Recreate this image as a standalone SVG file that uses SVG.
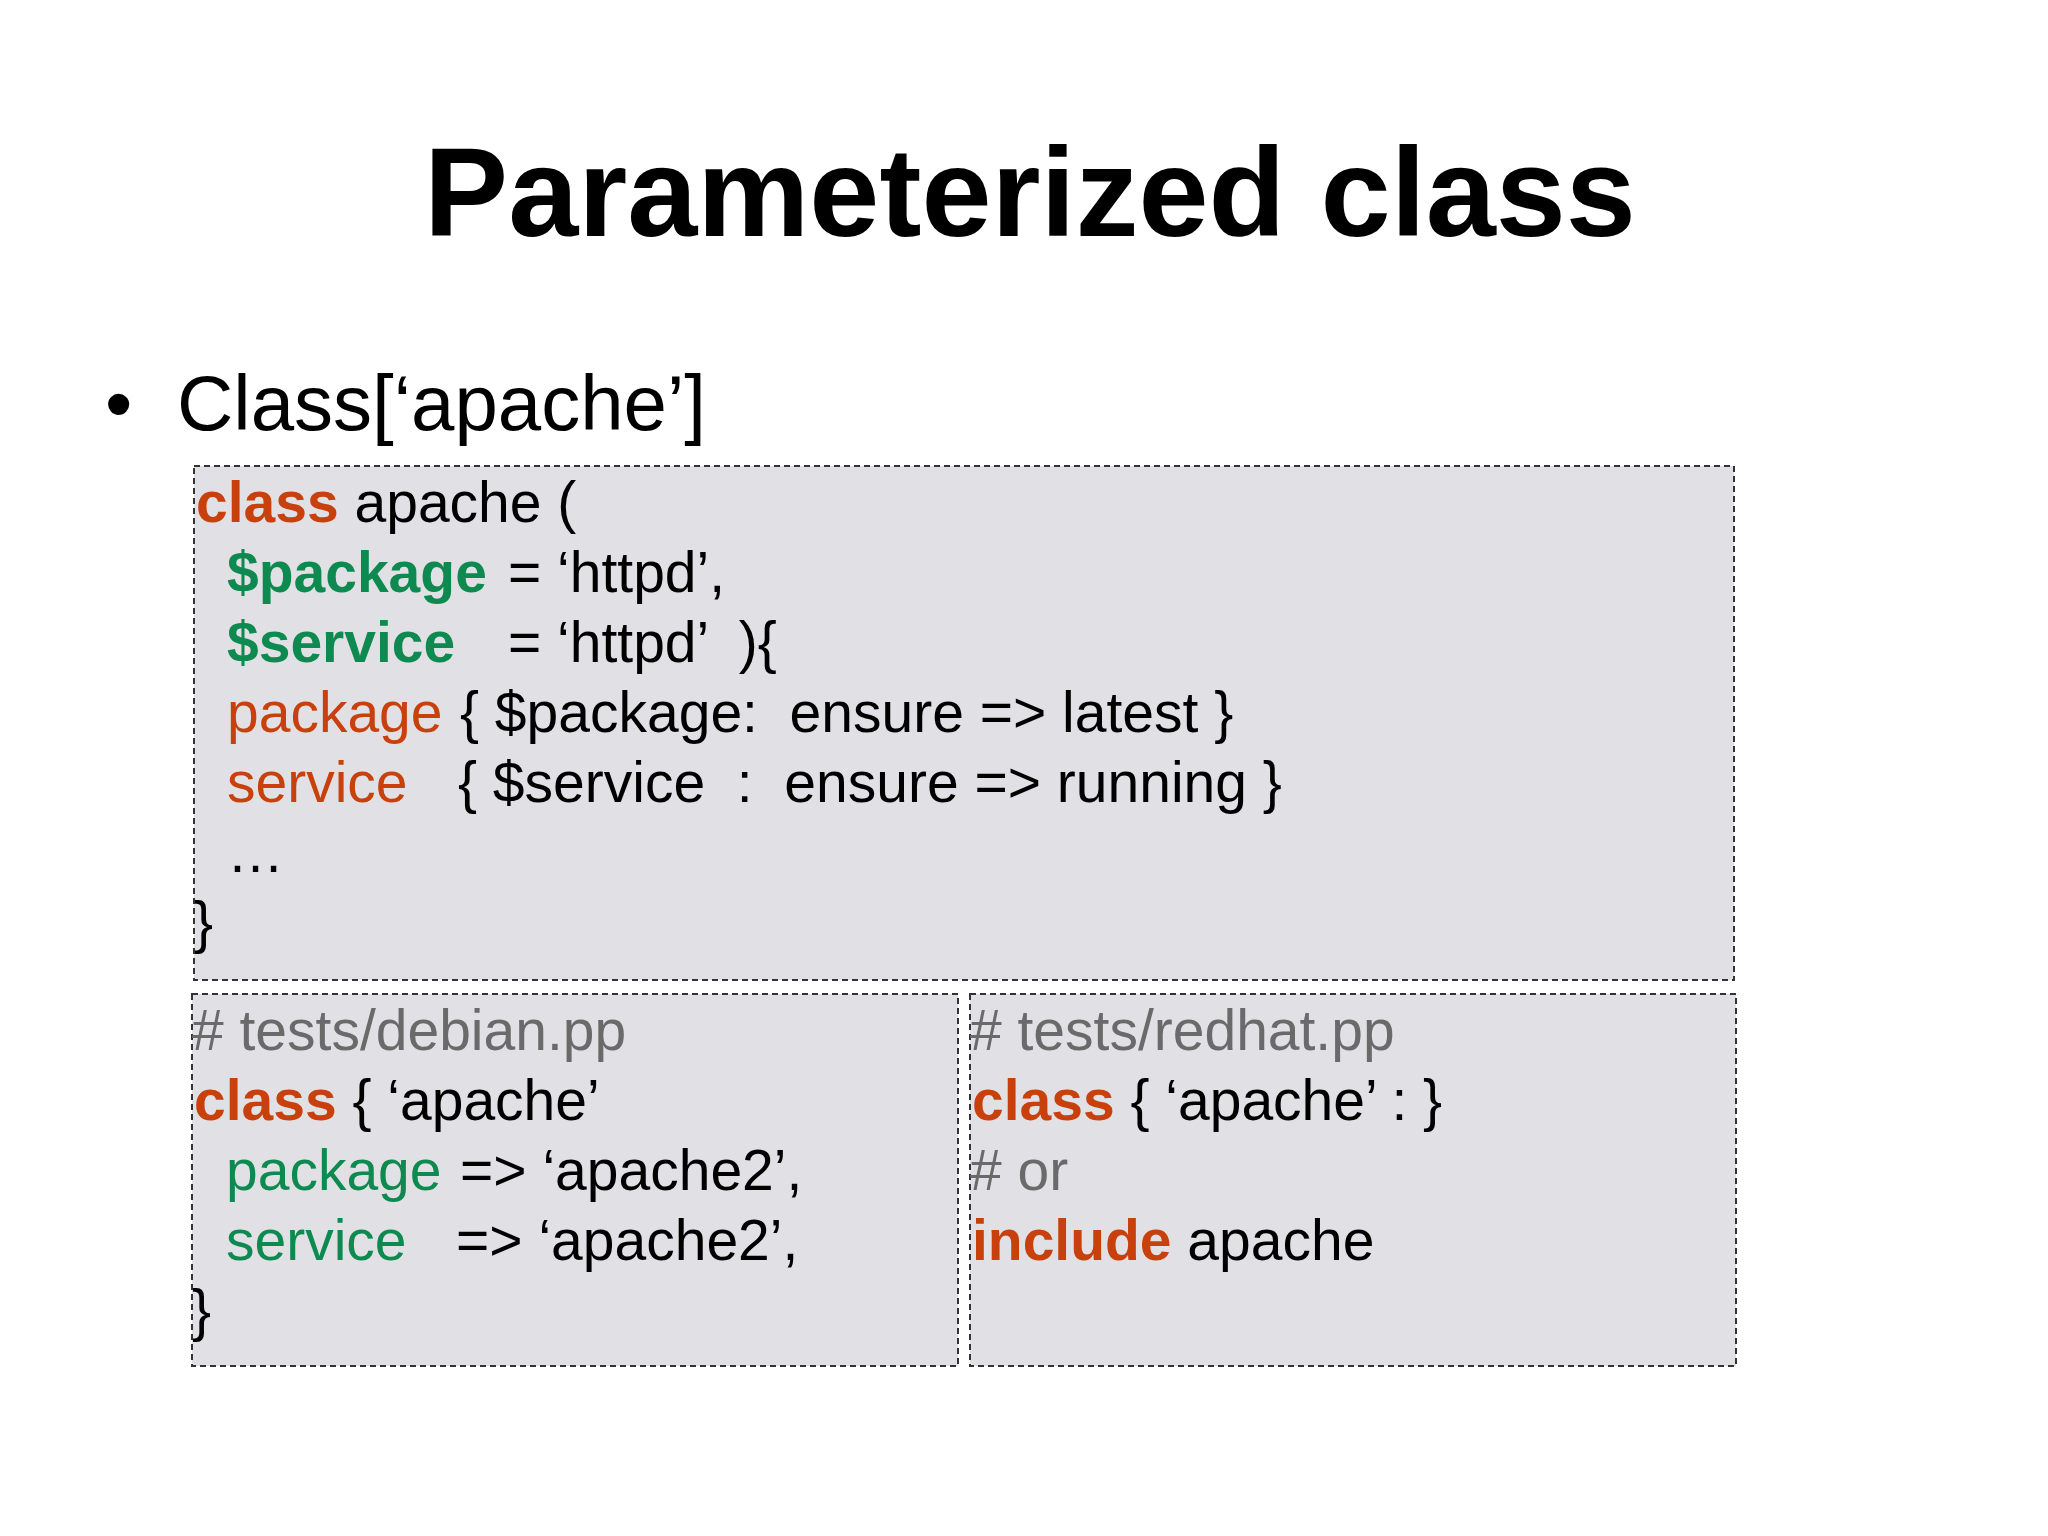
<svg xmlns="http://www.w3.org/2000/svg" width="2048" height="1536" viewBox="0 0 2048 1536">
<style>
text{font-family:"Liberation Sans",Arial,sans-serif;fill:#000}
.c{font-size:57px}
.k{fill:#c8400c;font-weight:bold}
.o{fill:#c8400c}
.g{fill:#0e8a50;font-weight:bold}
.gn{fill:#0e8a50}
.m{fill:#6a6a6a}
.box{fill:#e1e1e5;stroke:#333;stroke-width:2;stroke-dasharray:6 4}
</style>
<rect width="2048" height="1536" fill="#fff"/>
<text x="1030" y="236" font-size="126" font-weight="bold" text-anchor="middle">Parameterized class</text>
<text x="105" y="430" font-size="78">•</text>
<text x="177" y="430" font-size="78">Class[‘apache’]</text>
<g id="main">
<rect class="box" x="194" y="466" width="1540" height="514"/>
<text class="c" xml:space="preserve"><tspan x="196" y="522"><tspan class="k">class</tspan> apache (</tspan><tspan x="227" y="592" class="g">$package</tspan><tspan x="508" y="592">= ‘httpd’,</tspan><tspan x="227" y="662" class="g">$service</tspan><tspan x="508" y="662">= ‘httpd’  ){</tspan><tspan x="227" y="732" class="o">package</tspan><tspan x="460" y="732">{ $package:  ensure =&gt; latest }</tspan><tspan x="227" y="802" class="o">service</tspan><tspan x="458" y="802">{ $service  :  ensure =&gt; running }</tspan><tspan x="227" y="872">…</tspan><tspan x="194" y="942">}</tspan></text>
</g>
<g id="debian">
<rect class="box" x="192" y="994" width="766" height="372"/>
<text class="c" xml:space="preserve"><tspan x="192" y="1050" class="m"># tests/debian.pp</tspan><tspan x="194" y="1120"><tspan class="k">class</tspan> { ‘apache’</tspan><tspan x="226" y="1190" class="gn">package</tspan><tspan x="460" y="1190">=&gt; ‘apache2’,</tspan><tspan x="226" y="1260" class="gn">service</tspan><tspan x="456" y="1260">=&gt; ‘apache2’,</tspan><tspan x="192" y="1330">}</tspan></text>
</g>
<g id="redhat">
<rect class="box" x="970" y="994" width="766" height="372"/>
<text class="c" xml:space="preserve"><tspan x="970" y="1050" class="m"># tests/redhat.pp</tspan><tspan x="972" y="1120"><tspan class="k">class</tspan> { ‘apache’ : }</tspan><tspan x="970" y="1190" class="m"># or</tspan><tspan x="972" y="1260"><tspan class="k">include</tspan> apache</tspan></text>
</g>
</svg>
